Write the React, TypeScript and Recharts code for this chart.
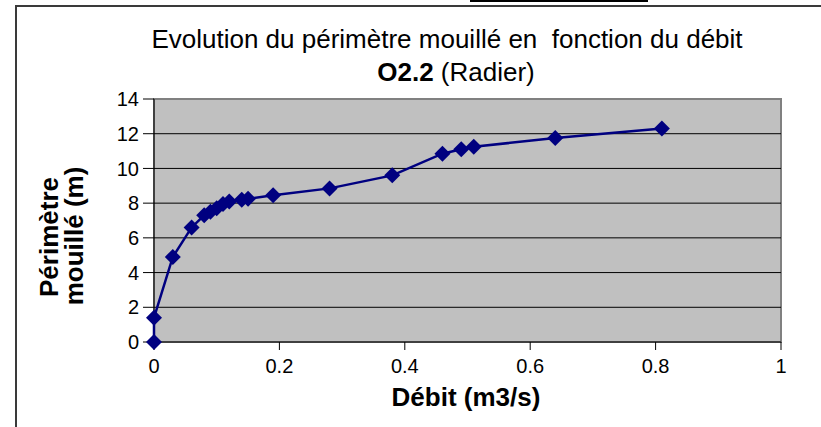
import React from "react"
import { ScatterChart, Scatter, XAxis, YAxis, ReferenceLine, ReferenceArea } from "recharts"

// Débit (m3/s) et périmètre mouillé (m)
const debit = [0, 0, 0.03, 0.06, 0.08, 0.09, 0.1, 0.11, 0.12, 0.14, 0.15, 0.19, 0.28, 0.38, 0.46, 0.49, 0.51, 0.64, 0.81]
const perimetre = [0, 1.4, 4.9, 6.6, 7.3, 7.5, 7.7, 7.95, 8.1, 8.2, 8.25, 8.45, 8.85, 9.6, 10.85, 11.1, 11.25, 11.75, 12.3]

const xTicks = [0, 0.2, 0.4, 0.6, 0.8, 1]
const yTicks = [0, 2, 4, 6, 8, 10, 12, 14]
const gridLines = [2, 4, 6, 8, 10, 12]

const FONT = "Arial, 'Liberation Sans', sans-serif"
const NAVY = "#000080"

const data = debit.map((x, i) => ({ x, y: perimetre[i] }))

function Diamond(props: any) {
    const { cx, cy } = props
    const r = 8
    return (
        <polygon
            points={`${cx},${cy - r} ${cx + r},${cy} ${cx},${cy + r} ${cx - r},${cy}`}
            fill={NAVY}
        />
    )
}

export default function App() {
    return (
        <div style={{ position: "absolute", left: 0, top: 0, width: 821, height: 427, overflow: "hidden", background: "#fff" }}>
            {/* cadre du graphique */}
            <div style={{ position: "absolute", left: 15, top: 5, width: 900, height: 600, borderLeft: "2px solid #3a3a3a", borderTop: "2px solid #3a3a3a" }} />
            <div style={{ position: "absolute", left: 470, top: 0, width: 178, height: 2, background: "#000" }} />

            <div style={{ position: "absolute", left: 0, top: 0 }}>
                <ScatterChart width={821} height={427} margin={{ top: 99, right: 40, left: 94, bottom: 55 }}>
                    <ReferenceArea x1={0} x2={1} y1={0} y2={14} fill="#c0c0c0" fillOpacity={1} stroke="#808080" strokeWidth={2} />
                    {gridLines.map(v => (
                        <ReferenceLine key={v} y={v} stroke="#000" strokeWidth={1} />
                    ))}
                    <XAxis
                        type="number"
                        dataKey="x"
                        domain={[0, 1]}
                        ticks={xTicks}
                        height={30}
                        tickSize={8}
                        tickMargin={9}
                        stroke="#000"
                        tick={{ fill: "#000", fontSize: 20, fontFamily: FONT }}
                    />
                    <YAxis
                        type="number"
                        dataKey="y"
                        domain={[0, 14]}
                        ticks={yTicks}
                        width={60}
                        tickSize={11}
                        tickMargin={4}
                        stroke="#000"
                        tick={{ fill: "#000", fontSize: 20, fontFamily: FONT }}
                    />
                    <Scatter
                        data={data}
                        line={{ stroke: NAVY, strokeWidth: 2.5 }}
                        shape={Diamond}
                        isAnimationActive={false}
                    />
                </ScatterChart>
            </div>

            {/* titres */}
            <svg width={821} height={427} style={{ position: "absolute", left: 0, top: 0, pointerEvents: "none" }}>
                <text x={447} y={48} textAnchor="middle" fontSize={26} fontFamily={FONT} fill="#000" style={{ whiteSpace: "pre" }}>
                    Evolution du périmètre mouillé en  fonction du débit
                </text>
                <text x={456} y={81} textAnchor="middle" fontSize={26} fontFamily={FONT} fill="#000">
                    <tspan fontWeight="bold">O2.2</tspan> (Radier)
                </text>
                <text x={466} y={406} textAnchor="middle" fontSize={26} fontWeight="bold" fontFamily={FONT} fill="#000">
                    Débit (m3/s)
                </text>
                <text x={58} y={237} transform="rotate(-90 58 237)" textAnchor="middle" fontSize={26} fontWeight="bold" fontFamily={FONT} fill="#000">
                    Périmètre
                </text>
                <text x={83} y={236} transform="rotate(-90 83 236)" textAnchor="middle" fontSize={26} fontWeight="bold" fontFamily={FONT} fill="#000">
                    mouillé (m)
                </text>
            </svg>
        </div>
    )
}
